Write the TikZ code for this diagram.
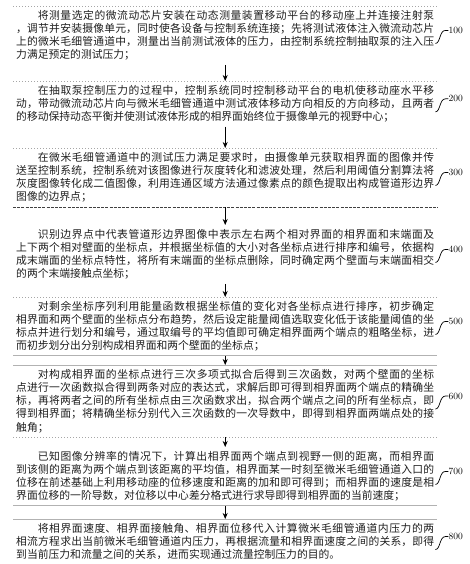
\documentclass[tikz,border=0pt]{standalone}
\usepackage{fontspec}
\newfontfamily\cjk{Noto Sans CJK SC}
\XeTeXlinebreaklocale "zh"
\XeTeXlinebreakskip=0pt plus 2pt
\usetikzlibrary{arrows.meta,calc}
\begin{document}
\begin{tikzpicture}[x=1pt,y=-1pt,
  box/.style={anchor=north west, inner xsep=3pt, inner ysep=4pt, text width=418pt,
    align=justify, font=\cjk\fontsize{10.8}{13.2}\selectfont, text=black!88},
  dotline/.style={draw=gray!70, line width=0.6pt, dash pattern=on 0.8pt off 2.2pt},
  solidline/.style={draw=gray!60, line width=0.9pt},
  dashline/.style={draw=black!75, line width=0.6pt, dash pattern=on 3pt off 1.2pt},
  arr/.style={draw=black, line width=0.8pt, -{Stealth[length=6pt,width=5pt]}},
  leader/.style={draw=black, line width=0.7pt},
  lab/.style={font=\fontsize{9.5}{9.5}\selectfont, inner sep=0pt, anchor=west}]
\useasboundingbox (0,0) rectangle (469,564);

\node[box] (b1) at (13,6) {\hspace*{2em}将测量选定的微流动芯片安装在动态测量装置移动平台的移动座上并连接注射泵\linebreak ，调节并安装摄像单元，同时使各设备与控制系统连接；先将测试液体注入微流动芯片\linebreak 上的微米毛细管通道中，测量出当前测试液体的压力，由控制系统控制抽取泵的注入压\linebreak 力满足预定的测试压力；};

\node[box] (b2) at (13,81) {\hspace*{2em}在抽取泵控制压力的过程中，控制系统同时控制移动平台的电机使移动座水平移\linebreak 动，带动微流动芯片向与微米毛细管通道中测试液体移动方向相反的方向移动，且两者\linebreak 的移动保持动态平衡并使测试液体形成的相界面始终位于摄像单元的视野中心；};

\node[box] (b3) at (13,148) {\hspace*{2em}在微米毛细管通道中的测试压力满足要求时，由摄像单元获取相界面的图像并传\linebreak 送至控制系统，控制系统对该图像进行灰度转化和滤波处理，然后利用阈值分割算法将\linebreak 灰度图像转化成二值图像，利用连通区域方法通过像素点的颜色提取出构成管道形边界\linebreak 图像的边界点；};

\node[box] (b4) at (13,225) {\hspace*{2em}识别边界点中代表管道形边界图像中表示左右两个相对界面的相界面和末端面及\linebreak 上下两个相对壁面的坐标点，并根据坐标值的大小对各坐标点进行排序和编号，依据构\linebreak 成末端面的坐标点特性，将所有末端面的坐标点删除，同时确定两个壁面与末端面相交\linebreak 的两个末端接触点坐标；};

\node[box] (b5) at (13,297) {\hspace*{2em}对剩余坐标序列利用能量函数根据坐标值的变化对各坐标点进行排序，初步确定\linebreak 相界面和两个壁面的坐标点分布趋势，然后设定能量阈值选取变化低于该能量阈值的坐\linebreak 标点并进行划分和编号，通过取编号的平均值即可确定相界面两个端点的粗略坐标，进\linebreak 而初步划分出分别构成相界面和两个壁面的坐标点；};

\node[box] (b6) at (13,365) {\hspace*{2em}对构成相界面的坐标点进行三次多项式拟合后得到三次函数，对两个壁面的坐标\linebreak 点进行一次函数拟合得到两条对应的表达式，求解后即可得到相界面两个端点的精确坐\linebreak 标，再将两者之间的所有坐标点由三次函数求出，拟合两个端点之间的所有坐标点，即\linebreak 得到相界面；将精确坐标分别代入三次函数的一次导数中，即得到相界面两端点处的接\linebreak 触角；};

\node[box] (b7) at (13,447) {\hspace*{2em}已知图像分辨率的情况下，计算出相界面两个端点到视野一侧的距离，而相界面\linebreak 到该侧的距离为两个端点到该距离的平均值，相界面某一时刻至微米毛细管通道入口的\linebreak 位移在前述基础上利用移动座的位移速度和距离的加和即可得到；而相界面的速度是相\linebreak 界面位移的一阶导数，对位移以中心差分格式进行求导即得到相界面的当前速度；};

\node[box] (b8) at (13,519) {\hspace*{2em}将相界面速度、相界面接触角、相界面位移代入计算微米毛细管通道内压力的两\linebreak 相流方程求出当前微米毛细管通道内压力，再根据流量和相界面速度之间的关系，即得\linebreak 到当前压力和流量之间的关系，进而实现通过流量控制压力的目的。};

% box edges
\draw[dotline] (b1.north west) -- (b1.north east);
\draw[dotline] (b2.north west) -- (b2.north east);
\draw[dotline] (b3.north west) -- (b3.north east);
\draw[dashline] (b3.south west) -- (b3.south east);
\draw[dotline] (b5.north west) -- (b5.north east);
\draw[solidline] (b5.south west) -- (b5.south east);
\draw[solidline] (b6.north west) -- (b6.north east);
\draw[dotline] (b6.south west) -- (b6.south east);
\draw[solidline] (b7.south west) -- (b7.south east);
\draw[solidline] (b8.north west) -- (b8.north east);

% arrows
\draw[arr] (b1.south) -- (b2.north);
\draw[arr] (b2.south) -- (b3.north);
\draw[arr] (b3.south) -- (b4.north);
\draw[arr] (b4.south) -- (b5.north);
\draw[arr] (b5.south) -- (b6.north);
\draw[arr] (b6.south) -- (b7.north);
\draw[arr] (b7.south) -- (b8.north);

% labels
\foreach \i/\t in {1/100,2/200,3/300,4/400,5/500,6/600,7/700,8/800}{
  \coordinate (m\i) at ($(b\i.north east)!0.5!(b\i.south east)$);
  \coordinate (s\i) at ([shift={(-2,8)}]m\i);
  \node[lab] (l\i) at ([shift={(11,-5)}]m\i) {\t};
  \draw[leader] (s\i) .. controls +(5,0) and +(-6,0) .. ([shift={(8,-5)}]m\i) -- (l\i.west);
}
\end{tikzpicture}
\end{document}
